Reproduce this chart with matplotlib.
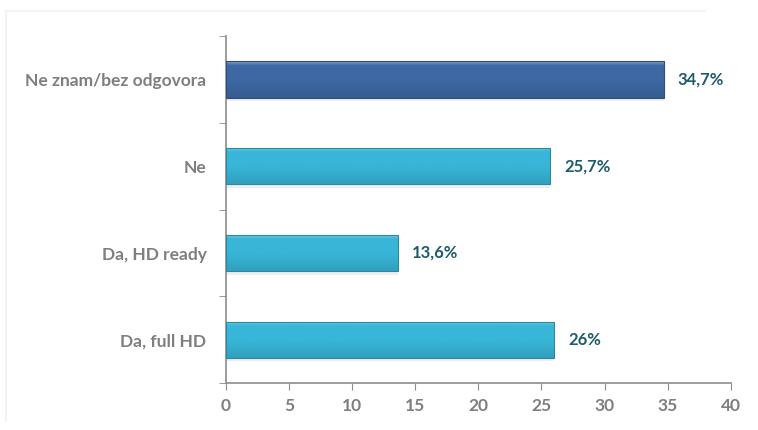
import matplotlib.pyplot as plt
import numpy as np
from matplotlib.lines import Line2D

categories = ["Da, full HD", "Da, HD ready", "Ne", "Ne znam/bez odgovora"]
values = [26.0, 13.6, 25.7, 34.7]
value_labels = ["26%", "13,6%", "25,7%", "34,7%"]
bar_colors = ["#38b6d8", "#38b6d8", "#38b6d8", "#3e68a4"]
x_ticks = [0, 5, 10, 15, 20, 25, 30, 35, 40]

plt.rcParams["font.family"] = ["Lato", "DejaVu Sans"]

fig = plt.figure(figsize=(7.58, 4.30), dpi=100)
ax = fig.add_axes([0.298, 0.109, 0.666, 0.807])

# faint frame remnants (top and left edge only)
fig.lines.append(Line2D([0.008, 0.93], [0.975, 0.975], transform=fig.transFigure,
                        color="#f3f3f3", linewidth=1.5))
fig.lines.append(Line2D([0.008, 0.008], [0.02, 0.975], transform=fig.transFigure,
                        color="#f3f3f3", linewidth=1.5))

bar_h = 0.42
y = np.arange(len(categories))


def shade(hex_color, factor):
    rgb = np.array([int(hex_color[i:i + 2], 16) for i in (1, 3, 5)]) / 255.0
    if factor > 0:
        return rgb + (1 - rgb) * factor
    return rgb * (1 + factor)


for yi, v, c in zip(y, values, bar_colors):
    # soft shadow under bar
    ax.barh(yi - 0.04, v, height=bar_h, color="#c8c8c8", alpha=0.3, zorder=1)
    # vertical gradient: light strip on top, then flat, slightly darker bottom
    ramp = np.linspace(0, 1, 64)
    f = np.where(ramp < 0.12, 0.35 * (1 - ramp / 0.12), -0.12 * np.clip((ramp - 0.5) / 0.5, 0, 1))
    cols = np.array([shade(c, k) for k in f])
    img = cols.reshape(-1, 1, 3)
    im = ax.imshow(img, extent=(0, v, yi - bar_h / 2, yi + bar_h / 2),
                   origin="upper", aspect="auto", zorder=2)
    bar = ax.barh(yi, v, height=bar_h, color="none", edgecolor=shade(c, -0.25),
                  linewidth=0.8, zorder=3)
    im.set_clip_path(bar.patches[0])

for yi, v, lab in zip(y, values, value_labels):
    ax.text(v + 1.1, yi, lab, va="center", ha="left", fontsize=12,
            fontweight="bold", color="#1f5b6d")

ax.set_xlim(0, 40)
ax.set_ylim(-0.5, len(categories) - 0.5)
ax.set_xticks(x_ticks)
ax.set_yticks(y)
ax.set_yticklabels(categories)
ax.set_yticks(np.arange(-0.5, len(categories), 1.0), minor=True)

for side in ("top", "right"):
    ax.spines[side].set_visible(False)
for side in ("left", "bottom"):
    ax.spines[side].set_color("#8c8c8c")
    ax.spines[side].set_linewidth(1.2)

ax.tick_params(axis="y", which="major", length=0, pad=14, labelsize=12.5,
               labelcolor="#7f7f7f")
ax.tick_params(axis="y", which="minor", length=5, color="#8c8c8c")
ax.tick_params(axis="x", length=5, color="#8c8c8c", labelsize=12.5,
               labelcolor="#7f7f7f", pad=6)
for lbl in ax.get_xticklabels() + ax.get_yticklabels():
    lbl.set_fontweight("bold")

fig.savefig("out.png", dpi=100)
